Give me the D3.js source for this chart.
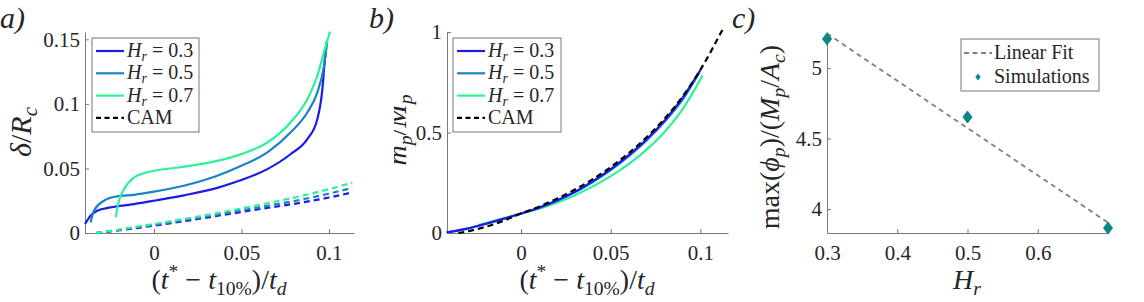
<!DOCTYPE html>
<html>
<head>
<meta charset="utf-8">
<script src="https://cdn.jsdelivr.net/npm/d3@7"></script>
<style>
  body { margin: 0; background: #fff; }
  svg text { font-family: "Liberation Serif", serif; fill: #262626; }
</style>
</head>
<body>
<div id="plot"></div>
<script>
  // ---- data ----
  var hrValues = ["0.3", "0.5", "0.7"];

  // panel a: delta / R_c
  var tA03 = [-0.0394,-0.0362,-0.0324,-0.0248,-0.0114,0,0.0171,0.0362,0.0499,0.0648,0.078,0.0876,0.0933,0.0962,0.0975,0.0987];
  var dA03 = [0.007,0.0134,0.0173,0.0198,0.0224,0.025,0.0292,0.035,0.041,0.0495,0.061,0.0727,0.088,0.111,0.132,0.1487];
  var tA05 = [-0.0362,-0.0343,-0.0286,-0.021,-0.0114,0,0.0171,0.0362,0.0499,0.0648,0.078,0.0876,0.0933,0.0971,0.099];
  var dA05 = [0.0082,0.0173,0.025,0.0284,0.0296,0.032,0.0366,0.0443,0.052,0.0624,0.0778,0.0933,0.1088,0.129,0.1487];
  var tA07 = [-0.0219,-0.02,-0.0171,-0.0114,-0.0057,0,0.0171,0.0362,0.0499,0.0648,0.078,0.0876,0.0933,0.0981,0.1006];
  var dA07 = [0.0121,0.025,0.034,0.043,0.0464,0.0482,0.0513,0.0559,0.0611,0.0701,0.0856,0.1036,0.1216,0.1448,0.156];
  var tCamA = [-0.033,0,0.05,0.1,0.1133];
  var dCam03 = [0,0.0057,0.0163,0.0275,0.0314];
  var dCam05 = [0,0.0063,0.0175,0.0305,0.035];
  var dCam07 = [0,0.007,0.019,0.034,0.039];

  // panel b: m_p / M_p
  var tB03 = [-0.0415,-0.03,-0.02,-0.01,0,0.01,0.02,0.03,0.04,0.05,0.06,0.07,0.08,0.09,0.1];
  var mB03 = [0.003,0.022,0.045,0.07,0.097,0.126,0.162,0.205,0.258,0.318,0.387,0.466,0.56,0.672,0.81];
  var tB05 = [-0.0415,-0.03,-0.02,-0.01,0,0.01,0.02,0.03,0.04,0.05,0.06,0.07,0.08,0.09,0.0995];
  var mB05 = [0.003,0.022,0.045,0.07,0.097,0.125,0.16,0.202,0.254,0.313,0.381,0.46,0.553,0.662,0.8];
  var tB07 = [-0.024,-0.01,0,0.01,0.02,0.03,0.04,0.05,0.06,0.07,0.08,0.09,0.1013];
  var mB07 = [0.04,0.072,0.097,0.121,0.151,0.188,0.232,0.283,0.343,0.415,0.503,0.615,0.785];
  var tCamB = [-0.035,-0.03,-0.02,-0.01,0,0.01,0.02,0.03,0.04,0.05,0.06,0.07,0.08,0.09,0.1,0.1128];
  var mCamB = [0,0.008,0.03,0.06,0.097,0.131,0.171,0.216,0.268,0.328,0.397,0.476,0.568,0.678,0.812,1.02];

  // panel c
  var hr = [0.3, 0.5, 0.7];
  var maxPhi = [5.206, 4.652, 3.865];
  var fitHr = [0.3, 0.7];
  var fitPhi = [5.244, 3.904];

  var ticksAx = [0, 0.05, 0.1], ticksAy = [0, 0.05, 0.1, 0.15];
  var ticksBy = [0, 0.5, 1];
  var ticksCx = [0.3, 0.4, 0.5, 0.6], ticksCy = [4, 4.5, 5];

  var colors = ["#1c1ce6", "#1884c6", "#2cf296"];
  var teal = "#0b8686";
  var serif = '"Liberation Serif", serif';

  var W = 1144, H = 302;
  var svg = d3.select("#plot").append("svg")
    .attr("width", W).attr("height", H)
    .attr("viewBox", "0 0 " + W + " " + H)
    .attr("font-family", serif);

  function zip(xs, ys) { return xs.map(function(v, i) { return [v, ys[i]]; }); }

  function txt(parent, size) {
    return parent.append("text").attr("font-family", serif).style("font-family", serif)
      .style("font-size", size + "px");
  }
  // writes simple math-ish text: segs [{t, i, sub, sup}]
  function mathText(sel, segs, size) {
    var shift = 0;
    segs.forEach(function(s) {
      var target = s.sub ? 0.2 * size : (s.sup ? -0.4 * size : 0);
      sel.append("tspan")
        .attr("dy", target - shift)
        .style("font-size", (s.sub || s.sup ? 0.7 * size : size) + "px")
        .style("font-style", s.i ? "italic" : "normal")
        .text(s.t);
      shift = target;
    });
    return sel;
  }
  function hrLabel(v) { return [{t:"H", i:true}, {t:"r", i:true, sub:true}, {t:" = " + v}]; }
  var tLabel = [{t:"("}, {t:"t", i:true}, {t:"*", sup:true}, {t:" \u2212 "}, {t:"t", i:true},
                {t:"10%", sub:true}, {t:")/"}, {t:"t", i:true}, {t:"d", i:true, sub:true}];

  function axes(x, y, xt, yt, xfmt, yfmt) {
    var gx = svg.append("g").attr("transform", "translate(0," + y.range()[0] + ")")
      .call(d3.axisBottom(x).tickValues(xt).tickSize(-4).tickSizeOuter(0).tickPadding(12).tickFormat(xfmt));
    var gy = svg.append("g").attr("transform", "translate(" + x.range()[0] + ",0)")
      .call(d3.axisLeft(y).tickValues(yt).tickSize(-4).tickSizeOuter(0).tickPadding(5).tickFormat(yfmt));
    [gx, gy].forEach(function(g) {
      g.attr("font-family", serif).attr("font-size", 21);
      g.select(".domain").attr("stroke", "#7a7a7a");
      g.selectAll(".tick line").attr("stroke", "#7a7a7a");
      g.selectAll(".tick text").attr("fill", "#262626").attr("font-family", serif)
        .style("font-family", serif).style("font-size", "21px");
    });
  }
  function fmt(d) { return d === 0 ? "0" : String(+d.toFixed(2)); }

  function legend(x0, y0, w, h, rows, lineColors) {
    svg.append("rect").attr("x", x0).attr("y", y0).attr("width", w).attr("height", h)
      .attr("fill", "#fff").attr("stroke", "#777").attr("stroke-width", 1);
    rows.forEach(function(r, i) {
      var yy = y0 + 13 + i * 22.3;
      svg.append("line").attr("x1", x0 + 4).attr("x2", x0 + 32).attr("y1", yy).attr("y2", yy)
        .attr("stroke", lineColors[i]).attr("stroke-width", 2.2)
        .attr("stroke-dasharray", r.dash ? "5,3.5" : null);
      var t = txt(svg, 20).attr("x", x0 + 35).attr("y", yy + 6);
      if (r.segs) mathText(t, r.segs, 20); else t.text(r.text);
    });
  }

  // ---------- panel a ----------
  var xA = d3.scaleLinear().domain([-0.0394, 0.1143]).range([85, 354]);
  var yA = d3.scaleLinear().domain([0, 0.1557]).range([233, 32]);
  axes(xA, yA, ticksAx, ticksAy, fmt, fmt);
  var lineA = d3.line().x(function(d) { return xA(d[0]); }).y(function(d) { return yA(d[1]); })
    .curve(d3.curveMonotoneX);
  [zip(tCamA, dCam03), zip(tCamA, dCam05), zip(tCamA, dCam07)].forEach(function(s, i) {
    svg.append("path").attr("d", lineA(s)).attr("fill", "none").attr("stroke", colors[i])
      .attr("stroke-width", 2.2).attr("stroke-dasharray", "6,4");
  });
  [zip(tA03, dA03), zip(tA05, dA05), zip(tA07, dA07)].forEach(function(s, i) {
    svg.append("path").attr("d", lineA(s)).attr("fill", "none").attr("stroke", colors[i])
      .attr("stroke-width", 2.2);
  });
  legend(92, 38, 107, 94,
    hrValues.map(function(v) { return {segs: hrLabel(v)}; }).concat([{text: "CAM", dash: true}]),
    colors.concat(["#000"]));
  mathText(txt(svg, 28).attr("x", 219).attr("y", 289).attr("text-anchor", "middle"), tLabel, 28);
  mathText(txt(svg, 30).attr("transform", "translate(31,132) rotate(-90)").attr("text-anchor", "middle"),
    [{t:"\u03b4", i:true}, {t:"/"}, {t:"R", i:true}, {t:"c", i:true, sub:true}], 30);
  txt(svg, 30).attr("x", 0).attr("y", 28).style("font-style", "italic").text("a)");

  // ---------- panel b ----------
  var xB = d3.scaleLinear().domain([-0.0413, 0.1154]).range([447, 728]);
  var yB = d3.scaleLinear().domain([0, 1]).range([233, 32]);
  axes(xB, yB, ticksAx, ticksBy, fmt, fmt);
  var lineB = d3.line().x(function(d) { return xB(d[0]); }).y(function(d) { return yB(d[1]); })
    .curve(d3.curveMonotoneX);
  [zip(tB07, mB07), zip(tB05, mB05), zip(tB03, mB03)].forEach(function(s, i) {
    svg.append("path").attr("d", lineB(s)).attr("fill", "none").attr("stroke", colors[2 - i])
      .attr("stroke-width", 2.2);
  });
  svg.append("path").attr("d", lineB(zip(tCamB, mCamB))).attr("fill", "none").attr("stroke", "#000")
    .attr("stroke-width", 2.2).attr("stroke-dasharray", "6,4");
  legend(453, 38, 108, 94,
    hrValues.map(function(v) { return {segs: hrLabel(v)}; }).concat([{text: "CAM", dash: true}]),
    colors.concat(["#000"]));
  mathText(txt(svg, 28).attr("x", 587).attr("y", 289).attr("text-anchor", "middle"), tLabel, 28);
  // the y label of this panel is cut off in the original figure
  svg.append("clipPath").attr("id", "clipB").append("rect")
    .attr("x", 394).attr("y", 0).attr("width", 40).attr("height", 302);
  var gLab = svg.append("g").attr("clip-path", "url(#clipB)");
  mathText(txt(gLab, 28).attr("transform", "translate(406,130) rotate(-90)").attr("text-anchor", "middle"),
    [{t:"m", i:true}, {t:"p", i:true, sub:true}, {t:"/"}, {t:"M", i:true}, {t:"p", i:true, sub:true}], 28);
  txt(svg, 30).attr("x", 369).attr("y", 28).style("font-style", "italic").text("b)");

  // ---------- panel c ----------
  var xC = d3.scaleLinear().domain([0.3, 0.7]).range([827, 1108]);
  var yC = d3.scaleLinear().domain([3.83, 5.255]).range([233, 32]);
  axes(xC, yC, ticksCx, ticksCy, function(d) { return d.toFixed(1); }, function(d) { return String(d); });
  svg.append("path").attr("d", d3.line()(zip(fitHr.map(xC), fitPhi.map(yC))))
    .attr("fill", "none").attr("stroke", "#808080").attr("stroke-width", 1.8).attr("stroke-dasharray", "5,4");
  var diamond = "M0,-6L4.5,0L0,6L-4.5,0Z";
  svg.selectAll(".sim").data(zip(hr, maxPhi)).enter().append("path")
    .attr("class", "sim")
    .attr("transform", function(d) { return "translate(" + xC(d[0]) + "," + yC(d[1]) + ")"; })
    .attr("d", diamond).attr("fill", teal).attr("stroke", teal);
  svg.append("rect").attr("x", 961).attr("y", 39).attr("width", 138).attr("height", 52)
    .attr("fill", "#fff").attr("stroke", "#777");
  svg.append("line").attr("x1", 964).attr("x2", 992).attr("y1", 53).attr("y2", 53)
    .attr("stroke", "#808080").attr("stroke-width", 1.8).attr("stroke-dasharray", "5,3.5");
  txt(svg, 20).attr("x", 994).attr("y", 59).text("Linear Fit");
  svg.append("path").attr("transform", "translate(978,77) scale(0.6)").attr("d", diamond).attr("fill", teal);
  txt(svg, 20).attr("x", 994).attr("y", 83).text("Simulations");
  mathText(txt(svg, 28).attr("x", 967).attr("y", 289).attr("text-anchor", "middle"),
    [{t:"H", i:true}, {t:"r", i:true, sub:true}], 28);
  mathText(txt(svg, 28).attr("transform", "translate(779,137) rotate(-90)").attr("text-anchor", "middle"),
    [{t:"max("}, {t:"\u03d5", i:true}, {t:"p", i:true, sub:true}, {t:")/("}, {t:"M", i:true},
     {t:"p", i:true, sub:true}, {t:"/"}, {t:"A", i:true}, {t:"c", i:true, sub:true}, {t:")"}], 28);
  txt(svg, 30).attr("x", 732).attr("y", 28).style("font-style", "italic").text("c)");
</script>
</body>
</html>
